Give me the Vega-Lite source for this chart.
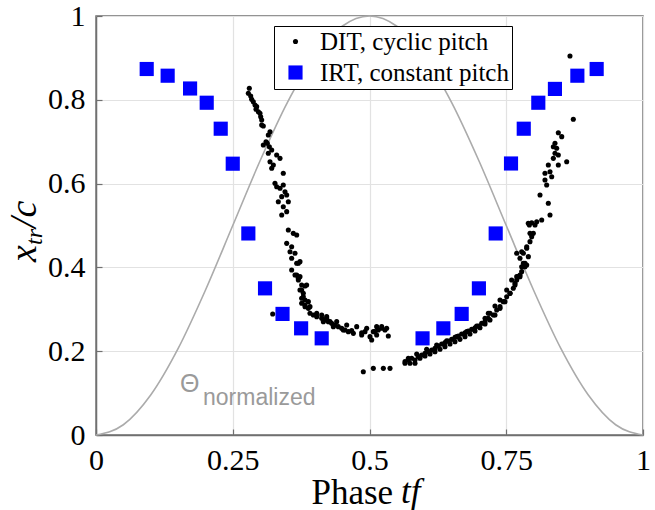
{
  "$schema": "https://vega.github.io/schema/vega-lite/v6.json",
  "autosize": {"type": "none"},
  "padding": {"left": 96, "top": 16, "right": 12, "bottom": 75},
  "width": 547,
  "height": 419,
  "background": "white",
  "config": {
    "view": {"stroke": "#707070", "strokeWidth": 1.5},
    "axis": {
      "labelFont": "Liberation Serif",
      "labelFontSize": 30,
      "labelColor": "#000",
      "titleFont": "Liberation Serif",
      "titleFontSize": 35,
      "titleFontWeight": "normal",
      "titleColor": "#000",
      "gridColor": "#e2e2e2",
      "gridWidth": 1.2,
      "domainColor": "#707070",
      "domainWidth": 1.5,
      "tickColor": "#707070",
      "tickSize": -6,
      "tickWidth": 1.2,
      "labelFlush": false,
      "labelOverlap": false,
      "labelBound": false,
      "labelExpr": "'' + datum.value"
    },
    "text": {"font": "Liberation Serif", "fontStyle": "italic", "color": "#000"}
  },
  "datasets": {
    "theta": [
      {"x": 0, "y": 0}, {"x": 0.05, "y": 0.0245}, {"x": 0.1, "y": 0.0955}, {"x": 0.15, "y": 0.2061},
      {"x": 0.2, "y": 0.3455}, {"x": 0.25, "y": 0.5}, {"x": 0.3, "y": 0.6545}, {"x": 0.35, "y": 0.7939},
      {"x": 0.4, "y": 0.9045}, {"x": 0.45, "y": 0.9755}, {"x": 0.5, "y": 1}, {"x": 0.55, "y": 0.9755},
      {"x": 0.6, "y": 0.9045}, {"x": 0.65, "y": 0.7939}, {"x": 0.7, "y": 0.6545}, {"x": 0.75, "y": 0.5},
      {"x": 0.8, "y": 0.3455}, {"x": 0.85, "y": 0.2061}, {"x": 0.9, "y": 0.0955}, {"x": 0.95, "y": 0.0245},
      {"x": 1, "y": 0}
    ],
    "pts": [
      {"s": "D", "x": 0.2803, "y": 0.8274}, {"s": "D", "x": 0.2785, "y": 0.8155}, {"s": "D", "x": 0.2828, "y": 0.8091},
      {"s": "D", "x": 0.2846, "y": 0.8011}, {"s": "D", "x": 0.2876, "y": 0.7955}, {"s": "D", "x": 0.2907, "y": 0.7876},
      {"s": "D", "x": 0.2937, "y": 0.7836}, {"s": "D", "x": 0.2925, "y": 0.7773}, {"s": "D", "x": 0.2968, "y": 0.7716},
      {"s": "D", "x": 0.2998, "y": 0.7677}, {"s": "D", "x": 0.3011, "y": 0.7597}, {"s": "D", "x": 0.3029, "y": 0.7518},
      {"s": "D", "x": 0.3029, "y": 0.7399}, {"s": "D", "x": 0.3059, "y": 0.7375}, {"s": "D", "x": 0.3181, "y": 0.7239},
      {"s": "D", "x": 0.3150, "y": 0.7160}, {"s": "D", "x": 0.3108, "y": 0.7000}, {"s": "D", "x": 0.3059, "y": 0.6921},
      {"s": "D", "x": 0.3132, "y": 0.6962}, {"s": "D", "x": 0.3169, "y": 0.6881}, {"s": "D", "x": 0.3212, "y": 0.6802},
      {"s": "D", "x": 0.3150, "y": 0.6723}, {"s": "D", "x": 0.3303, "y": 0.6683}, {"s": "D", "x": 0.3364, "y": 0.6603},
      {"s": "D", "x": 0.3181, "y": 0.6523}, {"s": "D", "x": 0.3242, "y": 0.6444}, {"s": "D", "x": 0.3212, "y": 0.6365},
      {"s": "D", "x": 0.3424, "y": 0.6246}, {"s": "D", "x": 0.3272, "y": 0.6007}, {"s": "D", "x": 0.3303, "y": 0.5926},
      {"s": "D", "x": 0.3364, "y": 0.5888}, {"s": "D", "x": 0.3424, "y": 0.5967}, {"s": "D", "x": 0.3455, "y": 0.5807},
      {"s": "D", "x": 0.3486, "y": 0.5728}, {"s": "D", "x": 0.3395, "y": 0.5688}, {"s": "D", "x": 0.3333, "y": 0.5568},
      {"s": "D", "x": 0.3516, "y": 0.5568}, {"s": "D", "x": 0.3424, "y": 0.5449}, {"s": "D", "x": 0.3486, "y": 0.5330},
      {"s": "D", "x": 0.3395, "y": 0.5251}, {"s": "D", "x": 0.3516, "y": 0.4893}, {"s": "D", "x": 0.3607, "y": 0.4813},
      {"s": "D", "x": 0.3669, "y": 0.4773}, {"s": "D", "x": 0.3486, "y": 0.4574}, {"s": "D", "x": 0.3577, "y": 0.4494},
      {"s": "D", "x": 0.3547, "y": 0.4375}, {"s": "D", "x": 0.3638, "y": 0.4336}, {"s": "D", "x": 0.3577, "y": 0.4217},
      {"s": "D", "x": 0.3669, "y": 0.4098}, {"s": "D", "x": 0.3729, "y": 0.4137}, {"s": "D", "x": 0.3699, "y": 0.4098},
      {"s": "D", "x": 0.3577, "y": 0.3938}, {"s": "D", "x": 0.3638, "y": 0.3819}, {"s": "D", "x": 0.3699, "y": 0.3739},
      {"s": "D", "x": 0.3669, "y": 0.3819}, {"s": "D", "x": 0.3729, "y": 0.3779}, {"s": "D", "x": 0.3699, "y": 0.3699},
      {"s": "D", "x": 0.3760, "y": 0.3580}, {"s": "D", "x": 0.3851, "y": 0.3580}, {"s": "D", "x": 0.3821, "y": 0.3556},
      {"s": "D", "x": 0.3760, "y": 0.3461}, {"s": "D", "x": 0.3729, "y": 0.3461}, {"s": "D", "x": 0.3790, "y": 0.3381},
      {"s": "D", "x": 0.3790, "y": 0.3301}, {"s": "D", "x": 0.3760, "y": 0.3262}, {"s": "D", "x": 0.3821, "y": 0.3222},
      {"s": "D", "x": 0.3882, "y": 0.3182}, {"s": "D", "x": 0.3760, "y": 0.3143}, {"s": "D", "x": 0.3821, "y": 0.3103},
      {"s": "D", "x": 0.3821, "y": 0.3063}, {"s": "D", "x": 0.3912, "y": 0.3063}, {"s": "D", "x": 0.3882, "y": 0.3023},
      {"s": "D", "x": 0.3912, "y": 0.2904}, {"s": "D", "x": 0.4035, "y": 0.2904}, {"s": "D", "x": 0.3973, "y": 0.2864},
      {"s": "D", "x": 0.4126, "y": 0.2864}, {"s": "D", "x": 0.4035, "y": 0.2824}, {"s": "D", "x": 0.4217, "y": 0.2824},
      {"s": "D", "x": 0.4126, "y": 0.2785}, {"s": "D", "x": 0.4217, "y": 0.2785}, {"s": "D", "x": 0.4186, "y": 0.2745},
      {"s": "D", "x": 0.4278, "y": 0.2705}, {"s": "D", "x": 0.4247, "y": 0.2705}, {"s": "D", "x": 0.4156, "y": 0.2705},
      {"s": "D", "x": 0.4308, "y": 0.2665}, {"s": "D", "x": 0.4400, "y": 0.2705}, {"s": "D", "x": 0.4369, "y": 0.2625},
      {"s": "D", "x": 0.4339, "y": 0.2586}, {"s": "D", "x": 0.4430, "y": 0.2586}, {"s": "D", "x": 0.4583, "y": 0.2625},
      {"s": "D", "x": 0.4491, "y": 0.2546}, {"s": "D", "x": 0.4521, "y": 0.2506}, {"s": "D", "x": 0.4552, "y": 0.2506},
      {"s": "D", "x": 0.4613, "y": 0.2466}, {"s": "D", "x": 0.4674, "y": 0.2490}, {"s": "D", "x": 0.4705, "y": 0.2426},
      {"s": "D", "x": 0.4766, "y": 0.2586}, {"s": "D", "x": 0.4857, "y": 0.2442}, {"s": "D", "x": 0.4857, "y": 0.2387},
      {"s": "D", "x": 0.4918, "y": 0.2466}, {"s": "D", "x": 0.4949, "y": 0.2546}, {"s": "D", "x": 0.5009, "y": 0.2347},
      {"s": "D", "x": 0.5040, "y": 0.2267}, {"s": "D", "x": 0.5070, "y": 0.2466}, {"s": "D", "x": 0.5101, "y": 0.2466},
      {"s": "D", "x": 0.5131, "y": 0.2586}, {"s": "D", "x": 0.5131, "y": 0.2387}, {"s": "D", "x": 0.5161, "y": 0.2506},
      {"s": "D", "x": 0.5223, "y": 0.2586}, {"s": "D", "x": 0.5223, "y": 0.2546}, {"s": "D", "x": 0.5283, "y": 0.2506},
      {"s": "D", "x": 0.5314, "y": 0.2546}, {"s": "D", "x": 0.5344, "y": 0.2363}, {"s": "D", "x": 0.3230, "y": 0.2888},
      {"s": "D", "x": 0.4887, "y": 0.1511}, {"s": "D", "x": 0.5070, "y": 0.1591}, {"s": "D", "x": 0.5253, "y": 0.1591},
      {"s": "D", "x": 0.5375, "y": 0.1591},
      {"s": "D", "x": 0.5649, "y": 0.1750}, {"s": "D", "x": 0.5710, "y": 0.1790}, {"s": "D", "x": 0.5771, "y": 0.1830},
      {"s": "D", "x": 0.5832, "y": 0.1711}, {"s": "D", "x": 0.5893, "y": 0.1870}, {"s": "D", "x": 0.5954, "y": 0.1909},
      {"s": "D", "x": 0.6015, "y": 0.1949}, {"s": "D", "x": 0.6075, "y": 0.1989}, {"s": "D", "x": 0.6137, "y": 0.2029},
      {"s": "D", "x": 0.6197, "y": 0.2068}, {"s": "D", "x": 0.6258, "y": 0.2124}, {"s": "D", "x": 0.6320, "y": 0.2172},
      {"s": "D", "x": 0.6380, "y": 0.2204}, {"s": "D", "x": 0.6441, "y": 0.2243}, {"s": "D", "x": 0.6502, "y": 0.2283},
      {"s": "D", "x": 0.6563, "y": 0.2331}, {"s": "D", "x": 0.6624, "y": 0.2363}, {"s": "D", "x": 0.6685, "y": 0.2410},
      {"s": "D", "x": 0.6746, "y": 0.2442}, {"s": "D", "x": 0.6806, "y": 0.2482}, {"s": "D", "x": 0.6868, "y": 0.2522},
      {"s": "D", "x": 0.6929, "y": 0.2561}, {"s": "D", "x": 0.6989, "y": 0.2601}, {"s": "D", "x": 0.7051, "y": 0.2665},
      {"s": "D", "x": 0.7112, "y": 0.2705}, {"s": "D", "x": 0.7172, "y": 0.2785}, {"s": "D", "x": 0.7203, "y": 0.2904},
      {"s": "D", "x": 0.7264, "y": 0.2864}, {"s": "D", "x": 0.7325, "y": 0.2983}, {"s": "D", "x": 0.7386, "y": 0.3063},
      {"s": "D", "x": 0.7446, "y": 0.3182}, {"s": "D", "x": 0.7508, "y": 0.3301}, {"s": "D", "x": 0.7569, "y": 0.3381},
      {"s": "D", "x": 0.7629, "y": 0.3501}, {"s": "D", "x": 0.7660, "y": 0.3620}, {"s": "D", "x": 0.7691, "y": 0.3699},
      {"s": "D", "x": 0.7721, "y": 0.3779}, {"s": "D", "x": 0.7751, "y": 0.3819}, {"s": "D", "x": 0.7782, "y": 0.3898},
      {"s": "D", "x": 0.7812, "y": 0.4017}, {"s": "D", "x": 0.7843, "y": 0.4098}, {"s": "D", "x": 0.7874, "y": 0.4057},
      {"s": "D", "x": 0.5649, "y": 0.1711}, {"s": "D", "x": 0.5740, "y": 0.1711}, {"s": "D", "x": 0.5832, "y": 0.1790},
      {"s": "D", "x": 0.5923, "y": 0.1830}, {"s": "D", "x": 0.6015, "y": 0.1885}, {"s": "D", "x": 0.6106, "y": 0.1933},
      {"s": "D", "x": 0.6197, "y": 0.1989}, {"s": "D", "x": 0.6289, "y": 0.2045}, {"s": "D", "x": 0.6380, "y": 0.2108},
      {"s": "D", "x": 0.6472, "y": 0.2172}, {"s": "D", "x": 0.6563, "y": 0.2227}, {"s": "D", "x": 0.6654, "y": 0.2283},
      {"s": "D", "x": 0.6746, "y": 0.2347}, {"s": "D", "x": 0.6837, "y": 0.2410}, {"s": "D", "x": 0.6929, "y": 0.2482},
      {"s": "D", "x": 0.7020, "y": 0.2561}, {"s": "D", "x": 0.7112, "y": 0.2649}, {"s": "D", "x": 0.7203, "y": 0.2745},
      {"s": "D", "x": 0.7294, "y": 0.2864}, {"s": "D", "x": 0.7386, "y": 0.3023}, {"s": "D", "x": 0.7477, "y": 0.3182},
      {"s": "D", "x": 0.7569, "y": 0.3381}, {"s": "D", "x": 0.7660, "y": 0.3580}, {"s": "D", "x": 0.7751, "y": 0.3779},
      {"s": "D", "x": 0.7843, "y": 0.4017},
      {"s": "D", "x": 0.5710, "y": 0.1830}, {"s": "D", "x": 0.5863, "y": 0.1933}, {"s": "D", "x": 0.6045, "y": 0.2045},
      {"s": "D", "x": 0.6228, "y": 0.2148}, {"s": "D", "x": 0.6411, "y": 0.2251}, {"s": "D", "x": 0.6594, "y": 0.2347},
      {"s": "D", "x": 0.6777, "y": 0.2466}, {"s": "D", "x": 0.6959, "y": 0.2601}, {"s": "D", "x": 0.7112, "y": 0.2785},
      {"s": "D", "x": 0.7172, "y": 0.2904}, {"s": "D", "x": 0.7294, "y": 0.3079}, {"s": "D", "x": 0.7386, "y": 0.3222},
      {"s": "D", "x": 0.7508, "y": 0.3461}, {"s": "D", "x": 0.7599, "y": 0.3699}, {"s": "D", "x": 0.7691, "y": 0.3779},
      {"s": "D", "x": 0.7691, "y": 0.4336}, {"s": "D", "x": 0.7782, "y": 0.4375}, {"s": "D", "x": 0.7874, "y": 0.4456},
      {"s": "D", "x": 0.7903, "y": 0.5052}, {"s": "D", "x": 0.7934, "y": 0.4813},
      {"s": "D", "x": 0.8665, "y": 0.9045}, {"s": "D", "x": 0.8726, "y": 0.7535}, {"s": "D", "x": 0.8452, "y": 0.7215},
      {"s": "D", "x": 0.8514, "y": 0.7120}, {"s": "D", "x": 0.8391, "y": 0.6962}, {"s": "D", "x": 0.8361, "y": 0.6881},
      {"s": "D", "x": 0.8422, "y": 0.6842}, {"s": "D", "x": 0.8391, "y": 0.6723}, {"s": "D", "x": 0.8452, "y": 0.6683},
      {"s": "D", "x": 0.8361, "y": 0.6603}, {"s": "D", "x": 0.8605, "y": 0.6523}, {"s": "D", "x": 0.8452, "y": 0.6444},
      {"s": "D", "x": 0.8269, "y": 0.6444}, {"s": "D", "x": 0.8300, "y": 0.6284}, {"s": "D", "x": 0.8208, "y": 0.6246},
      {"s": "D", "x": 0.8331, "y": 0.6165}, {"s": "D", "x": 0.8208, "y": 0.6086}, {"s": "D", "x": 0.8239, "y": 0.5967},
      {"s": "D", "x": 0.8117, "y": 0.5728}, {"s": "D", "x": 0.8269, "y": 0.5530}, {"s": "D", "x": 0.8300, "y": 0.5251},
      {"s": "D", "x": 0.8148, "y": 0.5131}, {"s": "D", "x": 0.8057, "y": 0.5091}, {"s": "D", "x": 0.7965, "y": 0.5067},
      {"s": "D", "x": 0.7922, "y": 0.5012}, {"s": "D", "x": 0.8026, "y": 0.5012}, {"s": "D", "x": 0.7995, "y": 0.4813},
      {"s": "D", "x": 0.7965, "y": 0.4733}, {"s": "D", "x": 0.7934, "y": 0.4614}, {"s": "D", "x": 0.7874, "y": 0.4494},
      {"s": "D", "x": 0.7813, "y": 0.4336}, {"s": "D", "x": 0.7904, "y": 0.4256}, {"s": "D", "x": 0.7751, "y": 0.4217},
      {"s": "D", "x": 0.7813, "y": 0.4098}, {"s": "D", "x": 0.7782, "y": 0.4017},
      {"s": "I", "x": 0.0927, "y": 0.8735}, {"s": "I", "x": 0.1310, "y": 0.8575}, {"s": "I", "x": 0.1720, "y": 0.8270},
      {"s": "I", "x": 0.2024, "y": 0.7930}, {"s": "I", "x": 0.2280, "y": 0.7310}, {"s": "I", "x": 0.2500, "y": 0.6475},
      {"s": "I", "x": 0.2785, "y": 0.4810}, {"s": "I", "x": 0.3090, "y": 0.3500}, {"s": "I", "x": 0.3410, "y": 0.2890},
      {"s": "I", "x": 0.3750, "y": 0.2546}, {"s": "I", "x": 0.4126, "y": 0.2307},
      {"s": "I", "x": 0.5970, "y": 0.2307}, {"s": "I", "x": 0.6350, "y": 0.2546}, {"s": "I", "x": 0.6685, "y": 0.2890},
      {"s": "I", "x": 0.7000, "y": 0.3500}, {"s": "I", "x": 0.7307, "y": 0.4810}, {"s": "I", "x": 0.7587, "y": 0.6480},
      {"s": "I", "x": 0.7820, "y": 0.7310}, {"s": "I", "x": 0.8086, "y": 0.7930}, {"s": "I", "x": 0.8390, "y": 0.8260},
      {"s": "I", "x": 0.8800, "y": 0.8575}, {"s": "I", "x": 0.9153, "y": 0.8735}
    ],
    "lab1": [{"x": 0.1536, "y": 0.1026, "t": "Θ"}],
    "lab2": [{"x": 0.1956, "y": 0.0716, "t": "normalized"}],
    "tf": [{"x": 0.5576, "y": -0.1623, "t": "tf"}],
    "yx": [{"x": -0.1097, "y": 0.413, "t": "x"}],
    "ytr": [{"x": -0.0987, "y": 0.4535, "t": "tr"}],
    "yc": [{"x": -0.1097, "y": 0.494, "t": "/c"}]
  },
  "encoding": {
    "x": {
      "field": "x", "type": "quantitative",
      "scale": {"domain": [0, 1], "nice": false, "zero": false},
      "axis": {"values": [0, 0.25, 0.5, 0.75, 1], "title": "Phase", "labelPadding": 16, "titleX": 215, "titleY": 68, "titleAlign": "left", "titleBaseline": "alphabetic"}
    },
    "y": {
      "field": "y", "type": "quantitative",
      "scale": {"domain": [0, 1], "nice": false, "zero": false},
      "axis": {"values": [0, 0.2, 0.4, 0.6, 0.8, 1], "title": null, "labelPadding": 17}
    }
  },
  "layer": [
    {
      "data": {"name": "theta"},
      "mark": {"type": "line", "color": "#ababab", "strokeWidth": 1.6, "interpolate": "monotone"},
      "encoding": {}
    },
    {
      "data": {"name": "pts"},
      "mark": {"type": "point", "filled": true, "opacity": 1, "strokeWidth": 0},
      "encoding": {
        "color": {"field": "s", "type": "nominal", "scale": {"domain": ["D", "I"], "range": ["#000000", "#0000ff"]},
          "legend": {"orient": "none", "legendX": 178, "legendY": 10, "title": null, "labelFont": "Liberation Serif", "labelFontSize": 25, "labelColor": "#000", "labelLimit": 0, "strokeColor": "#000", "fillColor": "#fff", "padding": 3, "rowPadding": 5, "symbolOffset": 6, "labelOffset": 12, "labelExpr": "datum.label == 'D' ? 'DIT, cyclic pitch' : 'IRT, constant pitch'"}},
        "shape": {"field": "s", "type": "nominal", "scale": {"domain": ["D", "I"], "range": ["circle", "square"]},
          "legend": {"orient": "none", "legendX": 178, "legendY": 10, "title": null, "labelFont": "Liberation Serif", "labelFontSize": 25, "labelColor": "#000", "labelLimit": 0, "strokeColor": "#000", "fillColor": "#fff", "padding": 3, "rowPadding": 5, "symbolOffset": 6, "labelOffset": 12, "labelExpr": "datum.label == 'D' ? 'DIT, cyclic pitch' : 'IRT, constant pitch'"}},
        "size": {"field": "s", "type": "nominal", "scale": {"domain": ["D", "I"], "range": [26, 200]},
          "legend": {"orient": "none", "legendX": 178, "legendY": 10, "title": null, "labelFont": "Liberation Serif", "labelFontSize": 25, "labelColor": "#000", "labelLimit": 0, "strokeColor": "#000", "fillColor": "#fff", "padding": 3, "rowPadding": 5, "symbolOffset": 6, "labelOffset": 12, "labelExpr": "datum.label == 'D' ? 'DIT, cyclic pitch' : 'IRT, constant pitch'"}}
      }
    },
    {
      "data": {"name": "lab1"},
      "mark": {"type": "text", "font": "Liberation Sans", "fontStyle": "normal", "fontSize": 25, "color": "#9a9a9a", "align": "left", "baseline": "alphabetic"},
      "encoding": {"text": {"field": "t"}}
    },
    {
      "data": {"name": "lab2"},
      "mark": {"type": "text", "font": "Liberation Sans", "fontStyle": "normal", "fontSize": 23, "color": "#9a9a9a", "align": "left", "baseline": "alphabetic"},
      "encoding": {"text": {"field": "t"}}
    },
    {
      "data": {"name": "tf"},
      "mark": {"type": "text", "fontSize": 35, "align": "left", "baseline": "alphabetic"},
      "encoding": {"text": {"field": "t"}}
    },
    {
      "data": {"name": "yx"},
      "mark": {"type": "text", "fontSize": 38, "angle": 270, "align": "left", "baseline": "alphabetic"},
      "encoding": {"text": {"field": "t"}}
    },
    {
      "data": {"name": "ytr"},
      "mark": {"type": "text", "fontSize": 24, "angle": 270, "align": "left", "baseline": "alphabetic"},
      "encoding": {"text": {"field": "t"}}
    },
    {
      "data": {"name": "yc"},
      "mark": {"type": "text", "fontSize": 38, "angle": 270, "align": "left", "baseline": "alphabetic"},
      "encoding": {"text": {"field": "t"}}
    }
  ]
}
